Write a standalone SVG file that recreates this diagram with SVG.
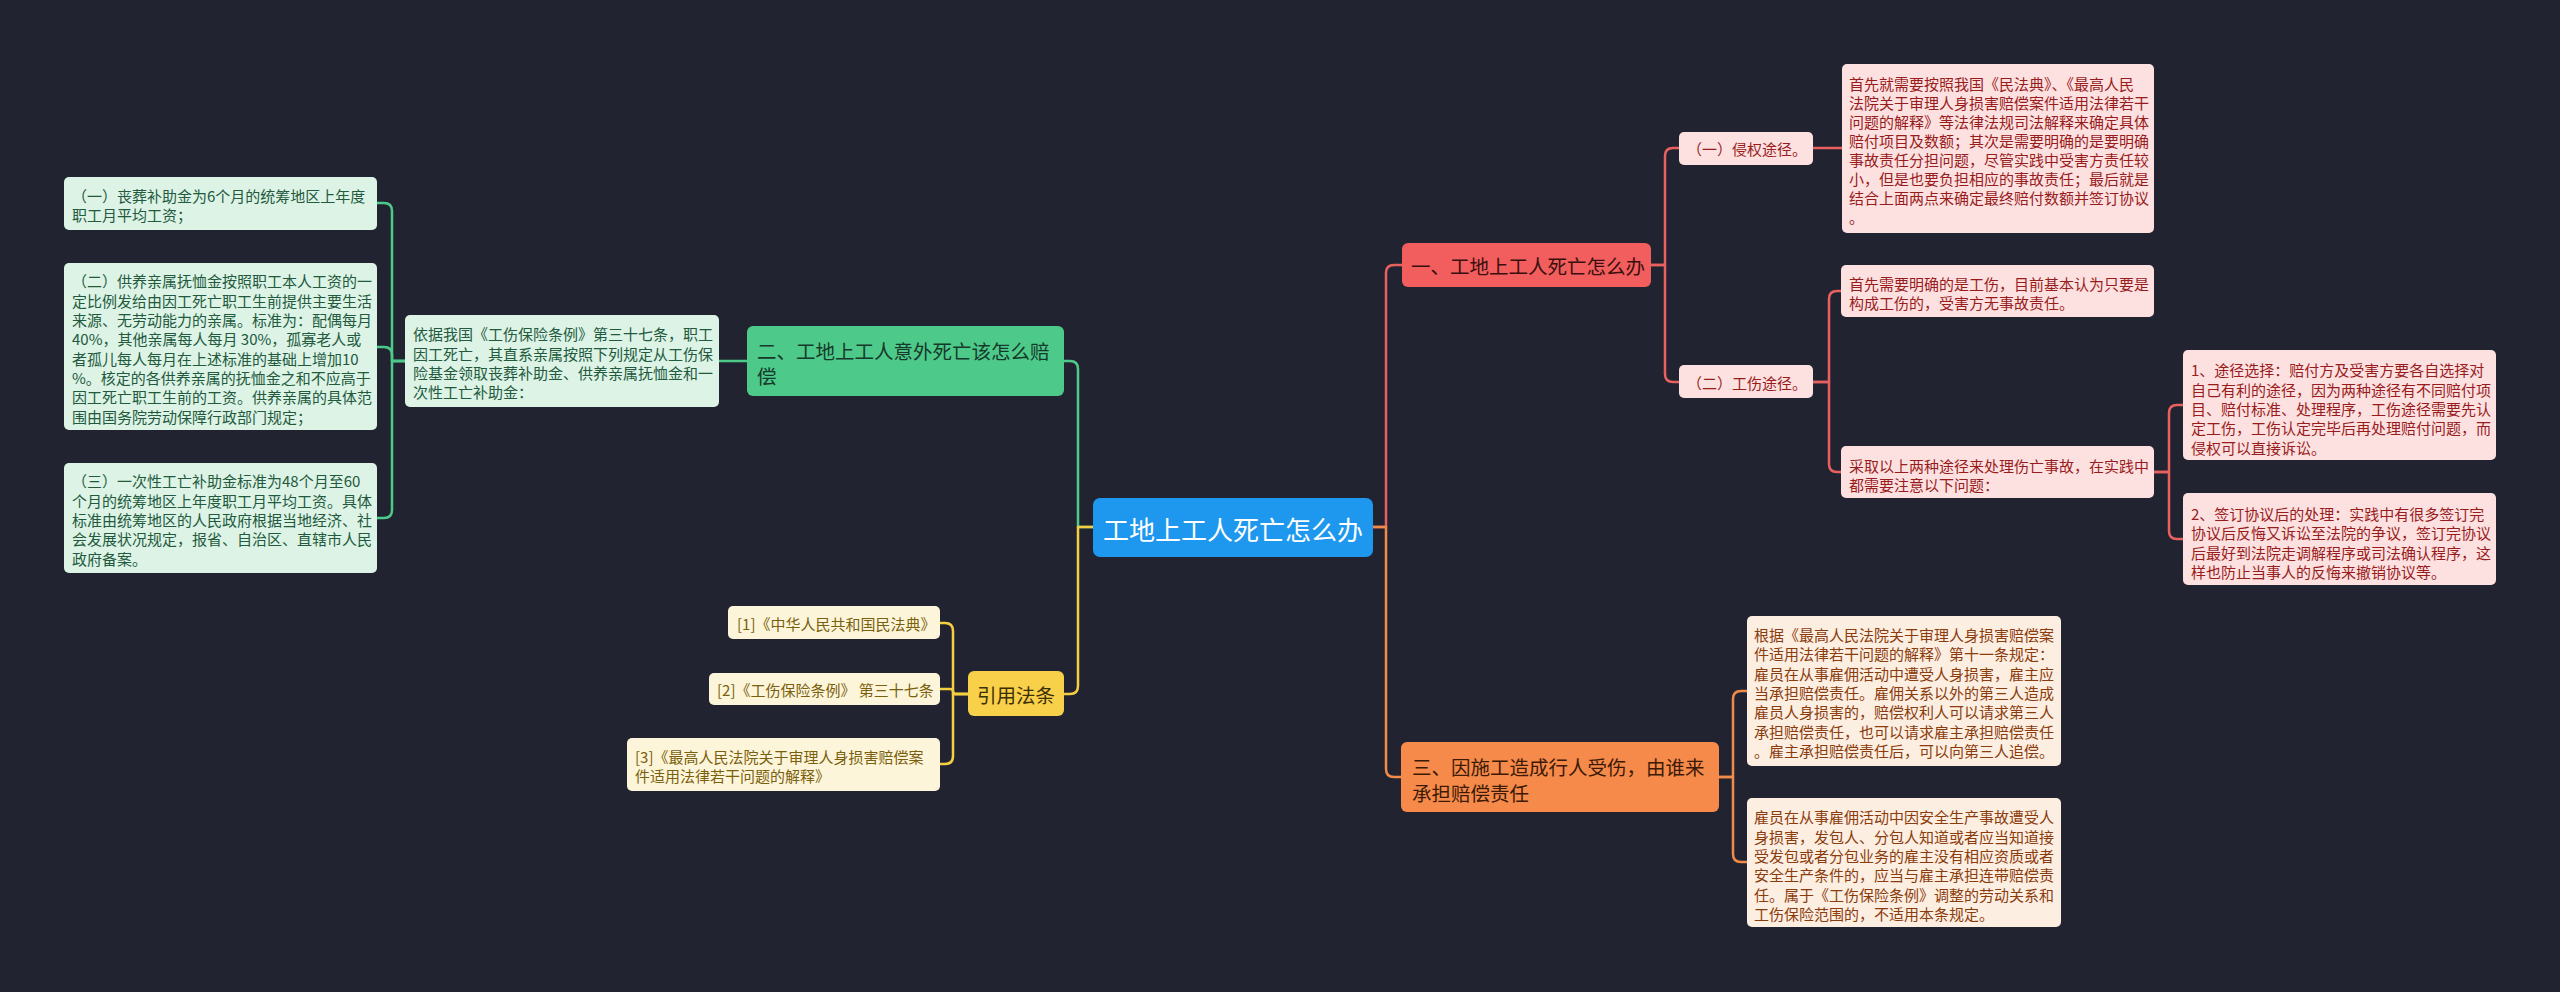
<svg xmlns="http://www.w3.org/2000/svg" width="2560" height="992" viewBox="0 0 2560 992">
<style>
text{font-family:"Noto Sans CJK SC","Noto Sans",sans-serif;dominant-baseline:central}
.s15{font-size:15px}
.s19{font-size:19.5px}
.c{fill:none;stroke-width:2.5;stroke-linecap:round;stroke-linejoin:round}
.cg{stroke:#4dca8a}.cy{stroke:#f5cf40}.cr{stroke:#e8615f}.co{stroke:#f28a4a}
.gbox{fill:#dcf3e6}.gtxt{fill:#235a3d}
.rbox{fill:#fde1e1}.rtxt{fill:#981c1c}
.obox{fill:#fdeee2}.otxt{fill:#8a3c0c}
.ybox{fill:#fdf5d9}.ytxt{fill:#7a5f0e}
</style>
<rect width="2560" height="992" fill="#212430"/>
<g id="connectors">
<path class="c cg" d="M1093,527 H1078 V369 Q1078,361 1070,361 H1064"/>
<path class="c cy" d="M1093,527 H1078 V686 Q1078,694 1070,694 H1064"/>
<path class="c cg" d="M747,361 H719"/>
<path class="c cg" d="M405,361 H392 V211 Q392,203 384,203 H377"/>
<path class="c cg" d="M405,361 H392 V355 Q392,347 384,347 H377"/>
<path class="c cg" d="M405,361 H392 V510 Q392,518 384,518 H377"/>
<path class="c cy" d="M968,694 H953 V631 Q953,623 945,623 H940"/>
<path class="c cy" d="M968,694 H956 Q953,694 953,691.5 Q953,689 950,689 H940"/>
<path class="c cy" d="M968,694 H953 V756 Q953,764 945,764 H940"/>
<path class="c cr" d="M1373,527 H1386 V273 Q1386,265 1394,265 H1402"/>
<path class="c co" d="M1373,527 H1386 V769 Q1386,777 1394,777 H1401"/>
<path class="c cr" d="M1651,265 H1665 V156 Q1665,148 1673,148 H1679"/>
<path class="c cr" d="M1651,265 H1665 V374 Q1665,382 1673,382 H1679"/>
<path class="c cr" d="M1813,148 H1842"/>
<path class="c cr" d="M1813,382 H1829 V299 Q1829,291 1837,291 H1841"/>
<path class="c cr" d="M1813,382 H1829 V464 Q1829,472 1837,472 H1841"/>
<path class="c cr" d="M2154,472 H2169 V413 Q2169,405 2177,405 H2183"/>
<path class="c cr" d="M2154,472 H2169 V531 Q2169,539 2177,539 H2183"/>
<path class="c co" d="M1719,777 H1733 V699 Q1733,691 1741,691 H1747"/>
<path class="c co" d="M1719,777 H1733 V854 Q1733,862 1741,862 H1747"/>
</g>
<g id="root">
<rect x="1093" y="498" width="280" height="59" rx="7" fill="#1d98ee"/>
<text x="1233" y="528" font-size="26" fill="#ffffff" text-anchor="middle">工地上工人死亡怎么办</text>
</g>
<g id="n2">
<rect x="747" y="326" width="317" height="70" rx="6" fill="#4dca8a"/>
<text class="s19" fill="#16392a"><tspan x="757" y="350">二、工地上工人意外死亡该怎么赔</tspan><tspan x="757" y="375">偿</tspan></text>
</g>
<g id="n2a">
<rect class="gbox" x="405" y="315" width="314" height="92" rx="5"/>
<text class="s15 gtxt"><tspan x="413" y="333">依据我国《工伤保险条例》第三十七条，职工</tspan><tspan x="413" y="352.5">因工死亡，其直系亲属按照下列规定从工伤保</tspan><tspan x="413" y="372">险基金领取丧葬补助金、供养亲属抚恤金和一</tspan><tspan x="413" y="391">次性工亡补助金：</tspan></text>
</g>
<g id="a1">
<rect class="gbox" x="64" y="177" width="313" height="53" rx="5"/>
<text class="s15 gtxt"><tspan x="72" y="195">（一）丧葬补助金为6个月的统筹地区上年度</tspan><tspan x="72" y="214">职工月平均工资；</tspan></text>
</g>
<g id="a2">
<rect class="gbox" x="64" y="263" width="313" height="167" rx="5"/>
<text class="s15 gtxt"><tspan x="72" y="280">（二）供养亲属抚恤金按照职工本人工资的一</tspan><tspan x="72" y="299.5">定比例发给由因工死亡职工生前提供主要生活</tspan><tspan x="72" y="319">来源、无劳动能力的亲属。标准为：配偶每月</tspan><tspan x="72" y="338">40%，其他亲属每人每月 30%，孤寡老人或</tspan><tspan x="72" y="357.5">者孤儿每人每月在上述标准的基础上增加10</tspan><tspan x="72" y="377">%。核定的各供养亲属的抚恤金之和不应高于</tspan><tspan x="72" y="396">因工死亡职工生前的工资。供养亲属的具体范</tspan><tspan x="72" y="415.5">围由国务院劳动保障行政部门规定；</tspan></text>
</g>
<g id="a3">
<rect class="gbox" x="64" y="463" width="313" height="110" rx="5"/>
<text class="s15 gtxt"><tspan x="72" y="480">（三）一次性工亡补助金标准为48个月至60</tspan><tspan x="72" y="499.5">个月的统筹地区上年度职工月平均工资。具体</tspan><tspan x="72" y="519">标准由统筹地区的人民政府根据当地经济、社</tspan><tspan x="72" y="538">会发展状况规定，报省、自治区、直辖市人民</tspan><tspan x="72" y="557.5">政府备案。</tspan></text>
</g>
<g id="ref">
<rect x="968" y="671" width="96" height="45" rx="6" fill="#f9d04a"/>
<text x="1016" y="694" class="s19" fill="#3b2f05" text-anchor="middle">引用法条</text>
</g>
<g id="c1">
<rect class="ybox" x="728" y="606" width="212" height="33" rx="5"/>
<text class="s15 ytxt" x="737" y="623">[1]《中华人民共和国民法典》</text>
</g>
<g id="c2">
<rect class="ybox" x="709" y="673" width="231" height="32" rx="5"/>
<text class="s15 ytxt" x="717" y="689">[2]《工伤保险条例》 第三十七条</text>
</g>
<g id="c3">
<rect class="ybox" x="627" y="738" width="313" height="53" rx="5"/>
<text class="s15 ytxt"><tspan x="635" y="756">[3]《最高人民法院关于审理人身损害赔偿案</tspan><tspan x="635" y="775">件适用法律若干问题的解释》</tspan></text>
</g>
<g id="n1">
<rect x="1402" y="243" width="249" height="44" rx="6" fill="#f25d5d"/>
<text class="s19" x="1411" y="265" fill="#3a0f0f">一、工地上工人死亡怎么办</text>
</g>
<g id="n1a">
<rect class="rbox" x="1679" y="132" width="134" height="33" rx="5"/>
<text class="s15 rtxt" x="1687" y="148">（一）侵权途径。</text>
</g>
<g id="g1">
<rect class="rbox" x="1842" y="64" width="312" height="169" rx="5"/>
<text class="s15 rtxt"><tspan x="1849" y="83">首先就需要按照我国《民法典》、《最高人民</tspan><tspan x="1849" y="102">法院关于审理人身损害赔偿案件适用法律若干</tspan><tspan x="1849" y="121">问题的解释》等法律法规司法解释来确定具体</tspan><tspan x="1849" y="140">赔付项目及数额；其次是需要明确的是要明确</tspan><tspan x="1849" y="159">事故责任分担问题，尽管实践中受害方责任较</tspan><tspan x="1849" y="178">小，但是也要负担相应的事故责任；最后就是</tspan><tspan x="1849" y="197">结合上面两点来确定最终赔付数额并签订协议</tspan><tspan x="1849" y="216">。</tspan></text>
</g>
<g id="n1b">
<rect class="rbox" x="1679" y="365" width="134" height="33" rx="5"/>
<text class="s15 rtxt" x="1687" y="382">（二）工伤途径。</text>
</g>
<g id="d1">
<rect class="rbox" x="1841" y="265" width="313" height="52" rx="5"/>
<text class="s15 rtxt"><tspan x="1849" y="283">首先需要明确的是工伤，目前基本认为只要是</tspan><tspan x="1849" y="302">构成工伤的，受害方无事故责任。</tspan></text>
</g>
<g id="d2">
<rect class="rbox" x="1841" y="446" width="313" height="52" rx="5"/>
<text class="s15 rtxt"><tspan x="1849" y="465">采取以上两种途径来处理伤亡事故，在实践中</tspan><tspan x="1849" y="484">都需要注意以下问题：</tspan></text>
</g>
<g id="e1">
<rect class="rbox" x="2183" y="350" width="313" height="110" rx="5"/>
<text class="s15 rtxt"><tspan x="2191" y="369">1、途径选择：赔付方及受害方要各自选择对</tspan><tspan x="2191" y="388.5">自己有利的途径，因为两种途径有不同赔付项</tspan><tspan x="2191" y="408">目、赔付标准、处理程序，工伤途径需要先认</tspan><tspan x="2191" y="427">定工伤，工伤认定完毕后再处理赔付问题，而</tspan><tspan x="2191" y="446.5">侵权可以直接诉讼。</tspan></text>
</g>
<g id="e2">
<rect class="rbox" x="2183" y="493" width="313" height="92" rx="5"/>
<text class="s15 rtxt"><tspan x="2191" y="513">2、签订协议后的处理：实践中有很多签订完</tspan><tspan x="2191" y="532">协议后反悔又诉讼至法院的争议，签订完协议</tspan><tspan x="2191" y="551.5">后最好到法院走调解程序或司法确认程序，这</tspan><tspan x="2191" y="571">样也防止当事人的反悔来撤销协议等。</tspan></text>
</g>
<g id="n3">
<rect x="1401" y="742" width="318" height="70" rx="6" fill="#f68a4b"/>
<text class="s19" fill="#3d1a06"><tspan x="1412" y="766">三、因施工造成行人受伤，由谁来</tspan><tspan x="1412" y="792">承担赔偿责任</tspan></text>
</g>
<g id="f1">
<rect class="obox" x="1747" y="616" width="314" height="150" rx="5"/>
<text class="s15 otxt"><tspan x="1754" y="634">根据《最高人民法院关于审理人身损害赔偿案</tspan><tspan x="1754" y="653.3">件适用法律若干问题的解释》第十一条规定：</tspan><tspan x="1754" y="672.6">雇员在从事雇佣活动中遭受人身损害，雇主应</tspan><tspan x="1754" y="692">当承担赔偿责任。雇佣关系以外的第三人造成</tspan><tspan x="1754" y="711">雇员人身损害的，赔偿权利人可以请求第三人</tspan><tspan x="1754" y="730.5">承担赔偿责任，也可以请求雇主承担赔偿责任</tspan><tspan x="1754" y="750">。雇主承担赔偿责任后，可以向第三人追偿。</tspan></text>
</g>
<g id="f2">
<rect class="obox" x="1747" y="798" width="314" height="129" rx="5"/>
<text class="s15 otxt"><tspan x="1754" y="816">雇员在从事雇佣活动中因安全生产事故遭受人</tspan><tspan x="1754" y="835.5">身损害，发包人、分包人知道或者应当知道接</tspan><tspan x="1754" y="855">受发包或者分包业务的雇主没有相应资质或者</tspan><tspan x="1754" y="874">安全生产条件的，应当与雇主承担连带赔偿责</tspan><tspan x="1754" y="893.5">任。属于《工伤保险条例》调整的劳动关系和</tspan><tspan x="1754" y="913">工伤保险范围的，不适用本条规定。</tspan></text>
</g>
</svg>
